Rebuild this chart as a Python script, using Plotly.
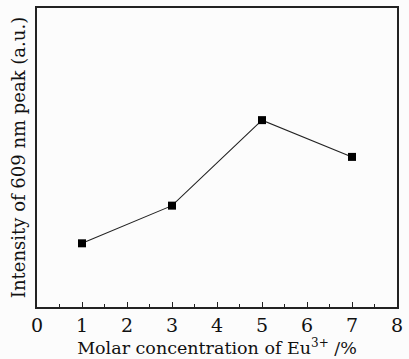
import plotly.graph_objects as go

# Eu3+ molar concentration (%) and relative 609 nm emission intensity (a.u.)
concentration = [1, 3, 5, 7]
intensity = [21.3, 33.9, 62.5, 50.2]
x_ticks = [0, 1, 2, 3, 4, 5, 6, 7, 8]

font_family = "DejaVu Serif"

fig = go.Figure()
fig.add_trace(go.Scatter(
    x=concentration, y=intensity, mode="lines+markers",
    line=dict(color="#222222", width=1.1),
    marker=dict(symbol="square", size=8, color="#000000"),
    showlegend=False,
))

fig.update_layout(
    width=409, height=359,
    margin=dict(l=37, r=6, t=6, b=52),
    paper_bgcolor="#fcfcfc", plot_bgcolor="#fcfcfc",
    font=dict(family=font_family, color="#111111"),
    xaxis=dict(
        range=[0, 8], tickvals=x_ticks, ticktext=[str(v) for v in x_ticks],
        ticks="inside", ticklen=5, tickwidth=1.2, tickcolor="#222",
        minor=dict(dtick=0.5, ticks="inside", ticklen=3, tickcolor="#222", showgrid=False),
        showline=True, linecolor="#222", linewidth=1.5, mirror=True,
        showgrid=False, zeroline=False,
        tickfont=dict(size=19),
        title=dict(text="Molar concentration of Eu<sup><span style='font-size:12px'>3+</span></sup> /%",
                   font=dict(size=17.5), standoff=2),
    ),
    yaxis=dict(
        range=[0, 100], showticklabels=False, ticks="",
        showline=True, linecolor="#222", linewidth=1.5, mirror=True,
        showgrid=False, zeroline=False,
        title=dict(text="Intensity of 609 nm peak (a.u.)", font=dict(size=18), standoff=5),
    ),
)

fig.write_html("out.html")
